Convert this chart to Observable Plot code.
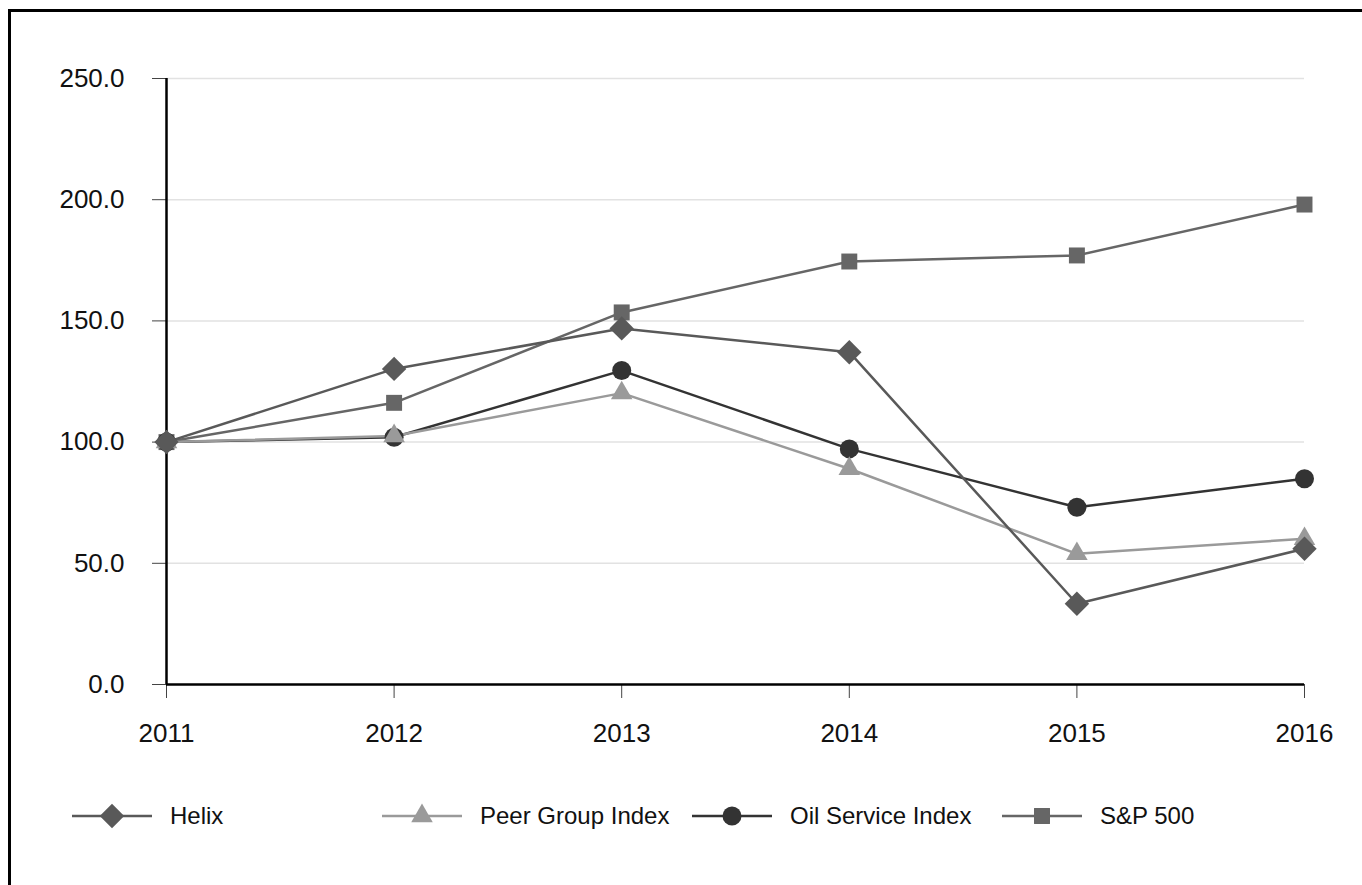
<!DOCTYPE html>
<html>
<head>
<meta charset="utf-8">
<script src="https://cdn.jsdelivr.net/npm/d3@7"></script>
<script src="https://cdn.jsdelivr.net/npm/@observablehq/plot@0.6"></script>
<style>
  html, body { margin: 0; padding: 0; background: #fff; }
  #wrap { position: relative; width: 1362px; height: 885px; overflow: hidden; background: #fff;
          font-family: "Liberation Sans", Arial, sans-serif; }
  #frame { position: absolute; left: 8px; top: 9px; right: -10px; bottom: -10px;
           border-top: 3px solid #000; border-left: 3px solid #000; }
  #chart { position: absolute; left: 0; top: 0; }
  #legend { position: absolute; left: 72px; top: 800px; height: 32px; display: flex; }
  .item { width: 310px; display: flex; align-items: center; font-size: 24px; color: #111; }
  .item svg { margin-right: 18px; }
</style>
</head>
<body>
<div id="wrap">
  <div id="frame"></div>
  <div id="chart"></div>
  <div id="legend"></div>
</div>
<script>
const years = [2011, 2012, 2013, 2014, 2015, 2016];
const helix = [100, 130.2, 146.9, 137.1, 33.3, 56.0];
const peer = [100, 102.5, 120.2, 89.0, 53.9, 60.1];
const oil = [100, 102.0, 129.5, 97.2, 73.1, 84.9];
const sp500 = [100, 116.2, 153.5, 174.5, 177.0, 198.0];
const yTicks = [0, 50, 100, 150, 200, 250];

const seriesNames = ["Helix", "Peer Group Index", "Oil Service Index", "S&P 500"];
const seriesValues = [helix, peer, oil, sp500];
const seriesColors = ["#595959", "#9a9a9a", "#333333", "#666666"];
const seriesSymbols = ["diamond2", "triangle", "circle", "square"];
const seriesR = [11, 8, 9.5, 9];

const rows = seriesNames.map((name, i) =>
  years.map((year, j) => ({ name, year, value: seriesValues[i][j] })));

// draw order: S&P, Oil, Peer, Helix (Helix on top)
const order = [3, 2, 1, 0];
const marks = [
  Plot.gridY(yTicks.filter(d => d > 0), { stroke: "#e2e2e2", strokeOpacity: 1, strokeWidth: 1.5 }),
  Plot.axisY(yTicks, { tickSize: 14, tickPadding: 28, tickFormat: d => d.toFixed(1),
    stroke: "#444", strokeWidth: 1, fontSize: 26, fill: "#111", label: null }),
  Plot.axisX(years, { tickSize: 14, tickPadding: 25, tickFormat: d => String(d),
    stroke: "#444", strokeWidth: 1, fontSize: 26, fill: "#111", label: null }),
  Plot.ruleX([2011], { stroke: "#000", strokeWidth: 2.5 }),
  Plot.ruleY([0], { stroke: "#000", strokeWidth: 2.5 })
];
for (const i of order) {
  marks.push(Plot.line(rows[i], { x: "year", y: "value", stroke: seriesColors[i], strokeWidth: 2.5 }));
}
for (const i of order) {
  marks.push(Plot.dot(rows[i], { x: "year", y: "value", symbol: seriesSymbols[i],
    fill: seriesColors[i], r: seriesR[i], stroke: "none" }));
}

const chart = Plot.plot({
  width: 1362,
  height: 770,
  marginLeft: 166,
  marginRight: 58,
  marginTop: 78,
  marginBottom: 86,
  x: { domain: [2011, 2016], type: "linear" },
  y: { domain: [0, 250] },
  style: { fontFamily: "'Liberation Sans', Arial, sans-serif", fontSize: "26px", color: "#111",
    background: "transparent", overflow: "visible" },
  marks
});
document.getElementById("chart").appendChild(chart);

// Legend
const symMap = { diamond2: d3.symbolDiamond2, triangle: d3.symbolTriangle, circle: d3.symbolCircle, square: d3.symbolSquare };
const legend = d3.select("#legend");
seriesNames.forEach((name, i) => {
  const item = legend.append("div").attr("class", "item");
  const svg = item.append("svg").attr("width", 80).attr("height", 32);
  svg.append("line").attr("x1", 0).attr("x2", 80).attr("y1", 16).attr("y2", 16)
    .attr("stroke", seriesColors[i]).attr("stroke-width", 2.5);
  svg.append("path")
    .attr("transform", "translate(40,16)")
    .attr("d", d3.symbol(symMap[seriesSymbols[i]], Math.PI * seriesR[i] * seriesR[i])())
    .attr("fill", seriesColors[i]);
  item.append("span").text(name);
});
</script>
</body>
</html>
